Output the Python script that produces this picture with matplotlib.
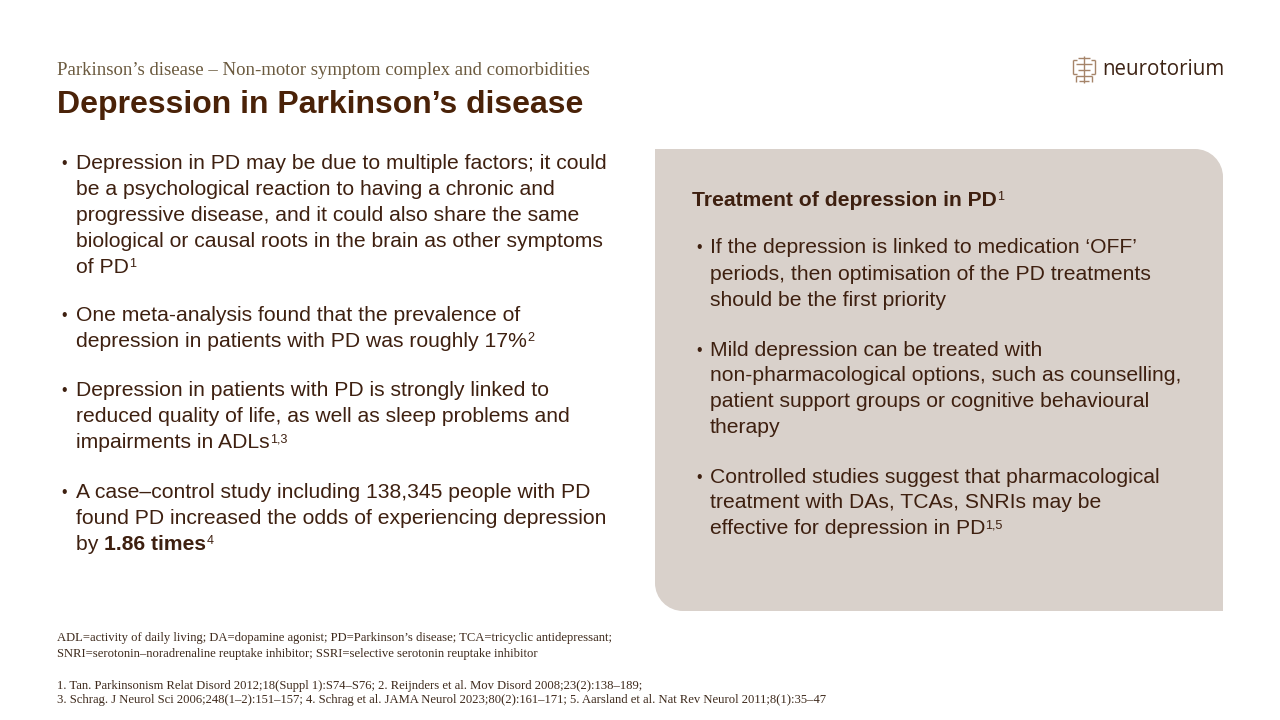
import matplotlib
matplotlib.use('Agg')
import matplotlib.pyplot as plt
from matplotlib.path import Path
from matplotlib.patches import PathPatch

# ---------------- content ----------------
subtitle = "Parkinson\u2019s disease \u2013 Non-motor symptom complex and comorbidities"
title = "Depression in Parkinson\u2019s disease"
brand = "neurotorium"

left_bullets = [
    [[("Depression in PD may be due to multiple factors; it could", "n")],
     [("be a psychological reaction to having a chronic and", "n")],
     [("progressive disease, and it could also share the same", "n")],
     [("biological or causal roots in the brain as other symptoms", "n")],
     [("of PD", "n"), ("1", "s")]],
    [[("One meta-analysis found that the prevalence of", "n")],
     [("depression in patients with PD was roughly 17%", "n"), ("2", "s")]],
    [[("Depression in patients with PD is strongly linked to", "n")],
     [("reduced quality of life, as well as sleep problems and", "n")],
     [("impairments in ADLs", "n"), ("1,3", "s")]],
    [[("A case\u2013control study including 138,345 people with PD", "n")],
     [("found PD increased the odds of experiencing depression", "n")],
     [("by ", "n"), ("1.86 times", "b"), ("4", "s")]],
]

panel_header = [("Treatment of depression in PD", "b"), ("1", "sb")]
right_bullets = [
    [[("If the depression is linked to medication \u2018OFF\u2019", "n")],
     [("periods, then optimisation of the PD treatments", "n")],
     [("should be the first priority", "n")]],
    [[("Mild depression can be treated with", "n")],
     [("non-pharmacological options, such as counselling,", "n")],
     [("patient support groups or cognitive behavioural", "n")],
     [("therapy", "n")]],
    [[("Controlled studies suggest that pharmacological", "n")],
     [("treatment with DAs, TCAs, SNRIs may be", "n")],
     [("effective for depression in PD", "n"), ("1,5", "s")]],
]

abbrev_lines = [
    "ADL=activity of daily living; DA=dopamine agonist; PD=Parkinson\u2019s disease; TCA=tricyclic antidepressant;",
    "SNRI=serotonin\u2013noradrenaline reuptake inhibitor; SSRI=selective serotonin reuptake inhibitor",
]
ref_lines = [
    "1. Tan. Parkinsonism Relat Disord 2012;18(Suppl 1):S74\u2013S76; 2. Reijnders et al. Mov Disord 2008;23(2):138\u2013189;",
    "3. Schrag. J Neurol Sci 2006;248(1\u20132):151\u2013157; 4. Schrag et al. JAMA Neurol 2023;80(2):161\u2013171; 5. Aarsland et al. Nat Rev Neurol 2011;8(1):35\u201347",
]

# ---------------- layout / style ----------------
W, H = 1280, 720
TEXT = '#3E2010'
TITLE_C = '#4A2208'
SUB_C = '#6B5A3F'
FOOT_C = '#3E2A1C'
PANEL_C = '#D9D1CB'
ICON_C = '#A58469'
SANS = 'Liberation Sans'
SERIF = 'Liberation Serif'
BODY = 15.2

fig = plt.figure(figsize=(12.8, 7.2), dpi=100)
fig.patch.set_facecolor('white')
ax = fig.add_axes([0, 0, 1, 1])
ax.set_xlim(0, W)
ax.set_ylim(H, 0)
ax.axis('off')
renderer = fig.canvas.get_renderer()


def rich(x, y, segs, size, color, family=SANS):
    cx = x
    for s, st in segs:
        kw = dict(fontsize=size, color=color, family=family, va='baseline', ha='left')
        yy = y
        if st in ('b', 'sb'):
            kw['fontweight'] = 'bold'
        if st in ('s', 'sb'):
            kw['fontsize'] = size * 0.6
            kw['fontweight'] = 'normal'
            yy = y - size * 0.27 * 100 / 72
        t = ax.text(cx, yy, s, **kw)
        bb = t.get_window_extent(renderer=renderer)
        cx += bb.width


# panel with rounded top-right and bottom-left corners
L, R, T, B, r = 655, 1223, 149, 611, 28
k = 0.5523 * r
verts = [(L, T), (R - r, T), (R - r + k, T), (R, T + r - k), (R, T + r),
         (R, B), (L + r, B), (L + r - k, B), (L, B - r + k), (L, B - r), (L, T), (L, T)]
codes = [Path.MOVETO, Path.LINETO, Path.CURVE4, Path.CURVE4, Path.CURVE4,
         Path.LINETO, Path.LINETO, Path.CURVE4, Path.CURVE4, Path.CURVE4, Path.LINETO, Path.CLOSEPOLY]
ax.add_patch(PathPatch(Path(verts, codes), facecolor=PANEL_C, edgecolor='none', zorder=0))

# header
ax.text(57, 75, subtitle, fontsize=13.5, family=SERIF, color=SUB_C, va='baseline')
ax.text(57, 113, title, fontsize=23.0, family=SANS, fontweight='bold', color=TITLE_C, va='baseline')

# logo
ax.text(1102, 75, brand, fontsize=14.8, family='Open Sans', color='#3D2314', va='baseline')
icon_lines = [
    ((1084, 1084), (56, 83)),
    ((1078, 1090), (58, 58)), ((1076, 1092), (64, 64)), ((1078, 1090), (70, 70)),
    ((1076, 1092), (76, 76)), ((1079, 1089), (81, 81)),
    ((1073, 1073), (60, 74)), ((1095, 1095), (60, 74)),
    ((1073, 1077), (60, 60)), ((1091, 1095), (60, 60)),
    ((1073, 1077), (74, 74)), ((1091, 1095), (74, 74)),
    ((1076, 1076), (76, 82)), ((1092, 1092), (76, 82)),
]
for xs, ys in icon_lines:
    ax.plot(xs, ys, color=ICON_C, lw=1.0, solid_capstyle='butt')

# left bullets
left_baselines = [[169, 195, 221, 247, 273], [321, 347], [396, 422, 448], [498, 524, 550]]
for lines, ys in zip(left_bullets, left_baselines):
    ax.text(61, ys[0] - 1, "\u2022", fontsize=BODY * 0.75, family=SANS, color=TEXT, va='baseline')
    for segs, y in zip(lines, ys):
        rich(76, y, segs, BODY, TEXT)

# right panel
rich(692, 206, panel_header, BODY, TEXT)
right_baselines = [[253, 280, 306], [356, 381, 407, 433], [483, 508, 534]]
for lines, ys in zip(right_bullets, right_baselines):
    ax.text(696, ys[0] - 1, "\u2022", fontsize=BODY * 0.75, family=SANS, color=TEXT, va='baseline')
    for segs, y in zip(lines, ys):
        rich(710, y, segs, BODY, TEXT)

# footnotes
for s, y in zip(abbrev_lines, [641, 657]):
    ax.text(57, y, s, fontsize=9.1, family=SERIF, color=FOOT_C, va='baseline')
for s, y in zip(ref_lines, [689, 703]):
    ax.text(57, y, s, fontsize=9.1, family=SERIF, color=FOOT_C, va='baseline')

fig.savefig('out.png', dpi=100, facecolor='white')
